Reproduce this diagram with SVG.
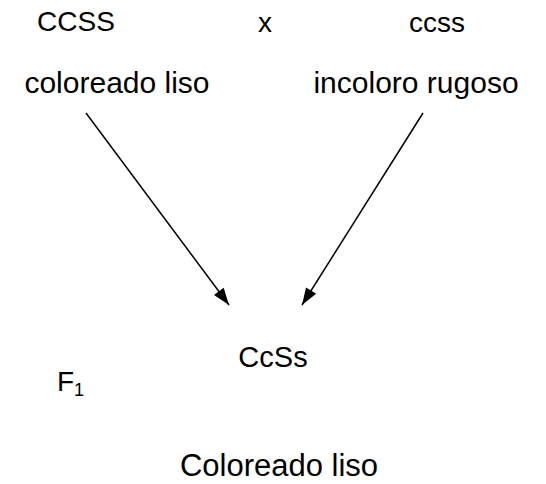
<svg xmlns="http://www.w3.org/2000/svg" width="546" height="484" viewBox="0 0 546 484">
  <style>
    text { font-family: "Liberation Sans", Arial, sans-serif; fill: #000; }
    .top { font-size: 28px; }
    .label { font-size: 30px; }
    .result { font-size: 31px; }
    .geno { font-size: 29px; }
    .sub { font-size: 18px; }
    .conn { stroke: #000; stroke-width: 1.5; fill: none; }
  </style>
  <defs>
    <marker id="arrow" viewBox="0 0 17 12" refX="17" refY="6" markerWidth="17" markerHeight="12" markerUnits="userSpaceOnUse" orient="auto" overflow="visible">
      <path d="M0,0 L17,6 L0,12 z" fill="#000"/>
    </marker>
  </defs>
  <rect width="546" height="484" fill="#fff"/>

  <!-- parents -->
  <g id="parent1">
    <text class="top" x="76" y="31" text-anchor="middle">CCSS</text>
    <text class="label" x="117" y="93" text-anchor="middle">coloreado liso</text>
  </g>
  <g id="cross">
    <text class="top" x="265" y="32" text-anchor="middle">x</text>
  </g>
  <g id="parent2">
    <text class="top" x="437" y="32" text-anchor="middle">ccss</text>
    <text class="label" x="416" y="93" text-anchor="middle">incoloro rugoso</text>
  </g>

  <!-- offspring -->
  <g id="f1">
    <text class="geno" x="273" y="367" text-anchor="middle">CcSs</text>
    <text class="result" x="279" y="476" text-anchor="middle">Coloreado liso</text>
  </g>
  <g id="generation">
    <text class="top" x="57" y="391">F<tspan class="sub" dy="5">1</tspan></text>
  </g>

  <g id="connectors">
    <line class="conn" x1="86" y1="113" x2="229" y2="305" marker-end="url(#arrow)"/>
    <line class="conn" x1="423" y1="113" x2="302" y2="305" marker-end="url(#arrow)"/>
  </g>
</svg>
